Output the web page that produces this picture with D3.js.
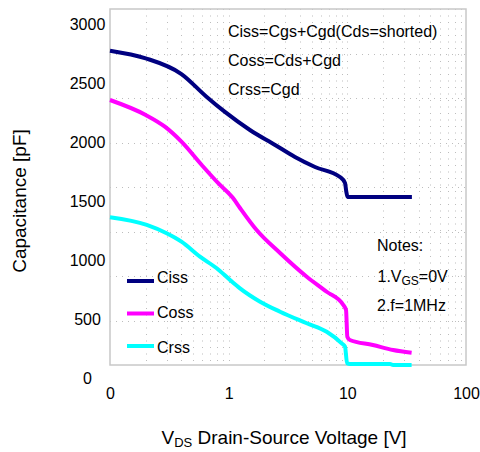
<!DOCTYPE html>
<html>
<head>
<meta charset="utf-8">
<script src="https://cdn.jsdelivr.net/npm/d3@7"></script>
<style>
  body { margin: 0; background: #fff; }
  svg { display: block; font-family: "Liberation Sans", Arial, sans-serif; }
</style>
</head>
<body>
<div id="chart"></div>
<script>
// values (VDS in V, capacitance in pF)
var cissV = [0.1, 0.2, 0.4, 0.65, 0.93, 1.51, 2.46, 3.62, 5.34, 8.67, 9.56, 9.8, 10.05, 35];
var cissC = [2774, 2709, 2576, 2384, 2255, 2102, 1975, 1873, 1788, 1703, 1653, 1580, 1534, 1534];

var cossV = [0.1, 0.2, 0.29, 0.4, 0.593, 0.813, 1.088, 1.246, 1.72, 2.71, 4.55, 6.70, 9.25, 9.75, 10.0, 10.5, 16.4, 24.3, 34.8];
var cossC = [2356, 2229, 2130, 2003, 1805, 1653, 1525, 1441, 1254, 1059, 858, 731, 619, 576, 350, 322, 280, 237, 214];

var crssV = [0.1, 0.204, 0.30, 0.40, 0.573, 0.793, 1.026, 1.246, 1.84, 2.71, 4.55, 6.70, 8.96, 9.56, 9.95, 10.5, 22.9, 24.3, 34.8];
var crssC = [1362, 1297, 1226, 1155, 1028, 930, 831, 760, 647, 562, 464, 392, 294, 265, 125, 119, 119, 110, 110];

var seriesNames = ["Ciss", "Coss", "Crss"];
var seriesColors = ["#000080", "#ff00ff", "#00ffff"];

var xTickValues = [0.1, 1, 10, 100];
var xTickLabels = ["0", "1", "10", "100"];
var yTickValues = [0, 500, 1000, 1500, 2000, 2500, 3000];

var formulaLines = ["Ciss=Cgs+Cgd(Cds=shorted)", "Coss=Cds+Cgd", "Crss=Cgd"];

var width = 480, height = 452;
var frameL = 110, frameR = 466, frameT = 9, frameB = 365;

var svg = d3.select("#chart").append("svg")
    .attr("width", width)
    .attr("height", height);

var x = d3.scaleLog().domain([0.1, 100]).range([frameL, frameR]);
var y = d3.scaleLinear().domain([0, 3000]).range([378, 24]);

// dotted grid
var grid = svg.append("g")
    .attr("stroke", "#bdbdbd")
    .attr("stroke-width", 1);

grid.selectAll("line.v")
    .data(x.ticks().filter(function(d) { return d > 0.1 && d < 100; }))
    .enter().append("line")
    .attr("x1", function(d) { return Math.round(x(d)) + 0.5; })
    .attr("x2", function(d) { return Math.round(x(d)) + 0.5; })
    .attr("y1", frameT)
    .attr("y2", frameB)
    .attr("stroke-dasharray", "1,5.5");

grid.selectAll("line.h")
    .data(d3.range(1, 8))
    .enter().append("line")
    .attr("x1", frameL)
    .attr("x2", frameR)
    .attr("y1", function(i) { return Math.round(frameT + i * (frameB - frameT) / 8) + 0.5; })
    .attr("y2", function(i) { return Math.round(frameT + i * (frameB - frameT) / 8) + 0.5; })
    .attr("stroke-dasharray", "1,5");

// frame
svg.append("rect")
    .attr("x", frameL)
    .attr("y", frameT)
    .attr("width", frameR - frameL)
    .attr("height", frameB - frameT)
    .attr("fill", "none")
    .attr("stroke", "#c8c8c8")
    .attr("stroke-width", 1.5);

// axes (labels only)
var xAxis = svg.append("g")
    .attr("transform", "translate(0,399)")
    .call(d3.axisBottom(x).tickValues(xTickValues).tickSize(0)
        .tickFormat(function(d, i) { return xTickLabels[i]; }));
xAxis.select(".domain").remove();
xAxis.attr("font-family", null).attr("font-size", 16);
xAxis.selectAll("text").attr("y", 0).attr("dy", null).attr("fill", "#000");

var yAxis = svg.append("g")
    .call(d3.axisLeft(y).tickValues(yTickValues).tickSize(0).tickFormat(d3.format("d")));
yAxis.select(".domain").remove();
yAxis.attr("font-family", null).attr("font-size", 16).attr("text-anchor", "middle");
yAxis.selectAll("text").attr("x", 87.5).attr("dy", "0.36em").attr("fill", "#000");

// curves
var line = d3.line()
    .x(function(d) { return x(d[0]); })
    .y(function(d) { return y(d[1]); })
    .curve(d3.curveMonotoneX);

var series = [d3.zip(cissV, cissC), d3.zip(cossV, cossC), d3.zip(crssV, crssC)];

svg.selectAll("path.curve")
    .data(series)
    .enter().append("path")
    .attr("class", "curve")
    .attr("fill", "none")
    .attr("stroke", function(d, i) { return seriesColors[i]; })
    .attr("stroke-width", 4)
    .attr("stroke-linejoin", "round")
    .attr("d", line);

// legend
var legend = svg.selectAll("g.legend")
    .data(seriesNames)
    .enter().append("g")
    .attr("class", "legend");

legend.append("line")
    .attr("x1", 127).attr("x2", 154)
    .attr("y1", function(d, i) { return 281 + i * 32.5; })
    .attr("y2", function(d, i) { return 281 + i * 32.5; })
    .attr("stroke", function(d, i) { return seriesColors[i]; })
    .attr("stroke-width", 4);

legend.append("text")
    .attr("x", 157)
    .attr("y", function(d, i) { return 283 + i * 35; })
    .attr("font-size", 16)
    .text(function(d) { return d; });

// formulas
svg.selectAll("text.formula")
    .data(formulaLines)
    .enter().append("text")
    .attr("class", "formula")
    .attr("x", 228)
    .attr("y", function(d, i) { return 37 + i * 29; })
    .attr("font-size", 16)
    .text(function(d) { return d; });

// notes
svg.append("text").attr("x", 377).attr("y", 251).attr("font-size", 16).text("Notes:");
var n1 = svg.append("text").attr("x", 377.5).attr("y", 282).attr("font-size", 16);
n1.append("tspan").text("1.V");
n1.append("tspan").attr("font-size", 12).attr("dy", 3).text("GS");
n1.append("tspan").attr("dy", -3).text("=0V");
svg.append("text").attr("x", 377).attr("y", 311).attr("font-size", 16).text("2.f=1MHz");

// axis titles
var xt = svg.append("text").attr("x", 161.5).attr("y", 444).attr("font-size", 19);
xt.append("tspan").text("V");
xt.append("tspan").attr("font-size", 13).attr("dy", 3).text("DS");
xt.append("tspan").attr("dy", -3).text(" Drain-Source Voltage [V]");

svg.append("text")
    .attr("transform", "translate(25.5,201) rotate(-90)")
    .attr("text-anchor", "middle")
    .attr("font-size", 19)
    .text("Capacitance [pF]");
</script>
</body>
</html>
